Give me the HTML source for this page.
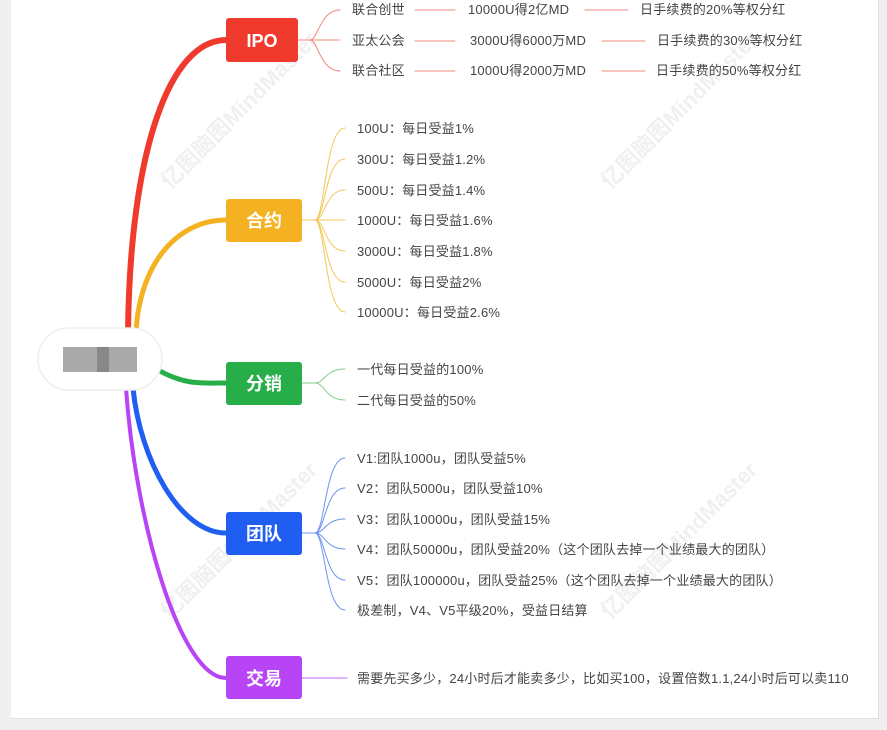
<!DOCTYPE html>
<html><head><meta charset="utf-8"><style>
html,body{margin:0;padding:0;width:887px;height:730px;background:#efefef;overflow:hidden}
.page{position:absolute;left:11px;top:0;width:867px;height:718px;background:#fff;border-right:1px solid #e0e0e0;border-bottom:1px solid #e0e0e0}
svg{position:absolute;left:0;top:0}
text{font-family:"Liberation Sans","Noto Sans CJK SC",sans-serif;font-size:13px;fill:#444;letter-spacing:0.2px}
.b{font-size:18px;font-weight:bold;fill:#fff;letter-spacing:0}
.w{font-size:22px;font-weight:bold;fill:#f0f0f0;letter-spacing:0}
</style></head><body>
<div class="page"></div>
<svg width="887" height="730" viewBox="0 0 887 730">
<text class="w" x="170" y="190" transform="rotate(-45 170 190)">亿图脑图MindMaster</text>
<text class="w" x="610" y="190" transform="rotate(-45 610 190)">亿图脑图MindMaster</text>
<text class="w" x="170" y="620" transform="rotate(-45 170 620)">亿图脑图MindMaster</text>
<text class="w" x="610" y="620" transform="rotate(-45 610 620)">亿图脑图MindMaster</text>
<g fill="none" stroke-linecap="round">
<path d="M128,332 C130,150 170,40 226,40" stroke="#f03a2e" stroke-width="6"/>
<path d="M136,332 C140,260 180,220 226,220" stroke="#f4b223" stroke-width="5"/>
<path d="M158,370 C185,385 200,383 226,383" stroke="#27ae48" stroke-width="5"/>
<path d="M133,388 C140,460 180,533 226,533" stroke="#1f5ef0" stroke-width="5"/>
<path d="M126,388 C135,520 180,678 226,678" stroke="#b845f5" stroke-width="4"/>
<g stroke="#ef8a80" stroke-width="1">
<path d="M298,40 H310 C318,40 320,10 340,10"/><path d="M298,40 H340"/><path d="M310,40 C318,40 320,71 340,71"/>
<path d="M415,10 H455 M585,10 H628 M415,41 H455 M602,41 H645 M415,71 H455 M602,71 H645"/>
</g>
<g stroke="#f4c85a" stroke-width="1">
<path d="M302,220 H315 C325,220 325,128 345,128"/><path d="M315,220 C325,220 325,159 345,159"/><path d="M315,220 C325,220 325,190 345,190"/><path d="M315,220 H345"/><path d="M315,220 C325,220 325,251 345,251"/><path d="M315,220 C325,220 325,282 345,282"/><path d="M315,220 C325,220 325,312 345,312"/>
</g>
<g stroke="#7fcf8f" stroke-width="1">
<path d="M302,383 H315 C325,383 325,369 345,369"/><path d="M315,383 C325,383 325,400 345,400"/>
</g>
<g stroke="#6b94ee" stroke-width="1">
<path d="M302,533 H315 C325,533 325,458 345,458"/><path d="M315,533 C325,533 325,488 345,488"/><path d="M315,533 C325,533 325,519 345,519"/><path d="M315,533 C325,533 325,549 345,549"/><path d="M315,533 C325,533 325,580 345,580"/><path d="M315,533 C325,533 325,610 345,610"/>
</g>
<path d="M302,678 H347" stroke="#d59af8" stroke-width="1.5"/>
</g>
<rect x="38" y="328" width="124" height="62" rx="31" fill="#fff" stroke="#eee" stroke-width="1.5"/>
<rect x="63" y="347" width="74" height="25" fill="#aaa"/>
<rect x="97" y="347" width="12" height="25" fill="#888"/>
<rect x="226" y="18" width="72" height="44" rx="3" fill="#f03a2e"/>
<rect x="226" y="199" width="76" height="43" rx="3" fill="#f4b223"/>
<rect x="226" y="362" width="76" height="43" rx="3" fill="#27ae48"/>
<rect x="226" y="512" width="76" height="43" rx="3" fill="#1f5ef0"/>
<rect x="226" y="656" width="76" height="43" rx="3" fill="#b845f5"/>
<text class="b" x="262" y="47" text-anchor="middle">IPO</text>
<text class="b" x="264" y="227" text-anchor="middle">合约</text>
<text class="b" x="264" y="390" text-anchor="middle">分销</text>
<text class="b" x="264" y="540" text-anchor="middle">团队</text>
<text class="b" x="264" y="685" text-anchor="middle">交易</text>
<text x="352" y="14">联合创世</text><text x="468" y="14">10000U得2亿MD</text><text x="640" y="14">日手续费的20%等权分红</text>
<text x="352" y="45">亚太公会</text><text x="470" y="45">3000U得6000万MD</text><text x="657" y="45">日手续费的30%等权分红</text>
<text x="352" y="75">联合社区</text><text x="470" y="75">1000U得2000万MD</text><text x="656" y="75">日手续费的50%等权分红</text>
<text x="357" y="133">100U：每日受益1%</text>
<text x="357" y="164">300U：每日受益1.2%</text>
<text x="357" y="195">500U：每日受益1.4%</text>
<text x="357" y="225">1000U：每日受益1.6%</text>
<text x="357" y="256">3000U：每日受益1.8%</text>
<text x="357" y="287">5000U：每日受益2%</text>
<text x="357" y="317">10000U：每日受益2.6%</text>
<text x="357" y="374">一代每日受益的100%</text>
<text x="357" y="405">二代每日受益的50%</text>
<text x="357" y="463">V1:团队1000u，团队受益5%</text>
<text x="357" y="493">V2：团队5000u，团队受益10%</text>
<text x="357" y="524">V3：团队10000u，团队受益15%</text>
<text x="357" y="554">V4：团队50000u，团队受益20%（这个团队去掉一个业绩最大的团队）</text>
<text x="357" y="585">V5：团队100000u，团队受益25%（这个团队去掉一个业绩最大的团队）</text>
<text x="357" y="615">极差制，V4、V5平级20%，受益日结算</text>
<text x="357" y="683">需要先买多少，24小时后才能卖多少，比如买100，设置倍数1.1,24小时后可以卖110</text>
</svg>
</body></html>
